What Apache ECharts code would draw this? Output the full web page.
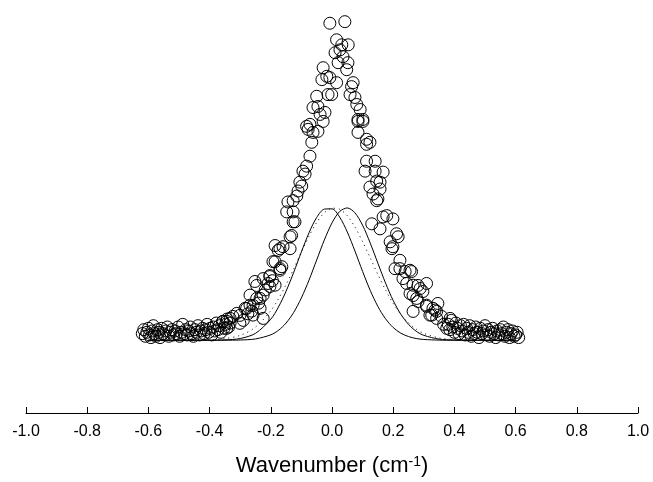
<!DOCTYPE html>
<html><head><meta charset="utf-8">
<script src="https://cdn.jsdelivr.net/npm/echarts@6/dist/echarts.min.js"></script>
<style>html,body{margin:0;padding:0;background:#fff}#c{width:653px;height:482px}</style>
</head><body><div id="c"></div>
<script>
// x-axis ticks
const xTickValues = [-1.0,-0.8,-0.6,-0.4,-0.2,0.0,0.2,0.4,0.6,0.8,1.0];
const xAxisTitle = 'Wavenumber (cm';
const xAxisTitleSup = '-1';

// measured spectrum (open circles): [wavenumber, intensity]
const measuredLeftTail = [
[-0.620,0.05],[-0.615,0.08],[-0.610,0.03],[-0.605,0.06],[-0.600,0.09],[-0.596,0.04],[-0.592,0.02],[-0.588,0.07],
[-0.584,0.11],[-0.580,0.05],[-0.575,0.03],[-0.570,0.08],[-0.566,0.06],[-0.562,0.02],[-0.557,0.09],[-0.552,0.05],
[-0.548,0.04],[-0.543,0.07],[-0.538,0.10],[-0.533,0.03],[-0.528,0.06],[-0.523,0.08],[-0.518,0.04],[-0.513,0.07],
[-0.508,0.05],[-0.503,0.10],[-0.498,0.03],[-0.493,0.06],[-0.488,0.12],[-0.483,0.05],[-0.478,0.08],[-0.473,0.04],
[-0.468,0.07],[-0.463,0.10],[-0.458,0.05],[-0.453,0.03],[-0.448,0.08],[-0.443,0.06],[-0.438,0.11],[-0.433,0.04],
[-0.428,0.07],[-0.423,0.09],[-0.418,0.05],[-0.413,0.08],[-0.408,0.12],[-0.403,0.06],[-0.398,0.09],[-0.393,0.04],
[-0.388,0.10],[-0.383,0.07],[-0.378,0.13],[-0.373,0.08],[-0.368,0.11],[-0.363,0.06],[-0.358,0.14],[-0.353,0.09],
[-0.348,0.12],[-0.343,0.16],[-0.338,0.10],[-0.333,0.13]
];
const measuredPeak = [
[-0.344,0.143],[-0.356,0.143],[-0.344,0.09],[-0.333,0.165],[-0.324,0.18],[-0.311,0.203],[-0.301,0.188],[-0.301,0.128],
[-0.290,0.15],[-0.284,0.241],[-0.279,0.24],[-0.275,0.2],[-0.268,0.265],[-0.268,0.341],[-0.262,0.22],[-0.258,0.263],
[-0.258,0.19],[-0.252,0.444],[-0.246,0.414],[-0.246,0.316],[-0.24,0.28],[-0.235,0.316],[-0.235,0.241],[-0.225,0.466],
[-0.225,0.341],[-0.225,0.165],[-0.218,0.38],[-0.209,0.429],[-0.203,0.489],[-0.203,0.406],[-0.203,0.481],[-0.195,0.45],
[-0.193,0.594],[-0.186,0.594],[-0.186,0.416],[-0.186,0.716],[-0.176,0.679],[-0.170,0.541],[-0.170,0.692],[-0.170,0.529],
[-0.164,0.556],[-0.160,0.707],[-0.148,0.97],[-0.144,1.045],[-0.137,0.782],[-0.137,0.692],[-0.132,0.792],[-0.127,0.895],
[-0.127,0.97],[-0.127,1.055],[-0.121,0.895],[-0.115,1.09],[-0.111,1.128],[-0.105,1.195],[-0.099,1.165],[-0.095,1.278],
[-0.088,1.256],[-0.083,1.316],[-0.083,1.617],[-0.078,1.594],[-0.072,1.391],[-0.072,1.632],[-0.066,1.496],[-0.062,1.571],
[-0.062,1.759],[-0.050,1.844],[-0.046,1.579],[-0.046,1.767],[-0.039,1.707],[-0.033,1.97],[-0.029,1.654],[-0.029,2.06],
[-0.023,1.722],[-0.017,1.995],[-0.013,1.857],[-0.007,1.985],[-0.007,2.396],[-0.001,1.857],[0.010,2.173],[0.015,1.947],
[0.015,2.271],[0.020,2.098],[0.026,2.195],[0.032,2.233],[0.036,2.143],[0.042,2.408],[0.048,2.045],[0.052,2.098],
[0.053,2.233],[0.059,1.857],[0.064,1.917],[0.069,1.947],[0.075,1.835],[0.081,1.782],[0.085,1.669],[0.085,1.654],
[0.085,1.571],[0.092,1.744],[0.101,1.669],[0.101,1.654],[0.108,1.278],[0.113,1.519],[0.113,1.481],[0.113,1.353],
[0.124,1.496],[0.124,1.158],[0.130,0.88],[0.134,1.105],[0.141,1.353],[0.141,1.278],[0.146,1.203],[0.146,1.055],
[0.150,1.068],[0.157,1.195],[0.157,1.143],[0.157,0.842],[0.167,1.271],[0.167,0.932],[0.179,0.942],[0.190,0.744],
[0.196,0.692],[0.199,0.917],[0.199,0.707],[0.206,0.541],[0.211,0.805],[0.216,0.782],[0.222,0.604],[0.222,0.541],
[0.232,0.466],[0.239,0.519],[0.244,0.429],[0.255,0.529],[0.255,0.353],[0.260,0.519],[0.265,0.416],[0.265,0.338],
[0.265,0.218],[0.277,0.316],[0.281,0.414],[0.281,0.293],[0.288,0.391],[0.297,0.368],[0.309,0.429],[0.309,0.265],
[0.309,0.256],[0.320,0.19],[0.326,0.19],[0.330,0.241],[0.337,0.228],[0.342,0.218],[0.342,0.165],[0.346,0.278],
[0.358,0.18],[0.365,0.12],[0.375,0.09],[0.386,0.165]
];
const measuredRightTail = [
[0.380,0.12],[0.385,0.08],[0.390,0.15],[0.395,0.10],[0.400,0.06],[0.405,0.13],[0.410,0.09],[0.415,0.05],
[0.420,0.11],[0.425,0.07],[0.430,0.12],[0.435,0.04],[0.440,0.09],[0.445,0.06],[0.450,0.11],[0.455,0.03],
[0.460,0.08],[0.465,0.05],[0.470,0.10],[0.475,0.06],[0.480,0.02],[0.485,0.09],[0.490,0.05],[0.495,0.07],
[0.500,0.11],[0.505,0.04],[0.510,0.08],[0.515,0.03],[0.520,0.06],[0.525,0.09],[0.530,0.05],[0.535,0.02],
[0.540,0.07],[0.545,0.04],[0.550,0.08],[0.555,0.05],[0.560,0.10],[0.565,0.03],[0.570,0.06],[0.575,0.08],
[0.580,0.02],[0.585,0.05],[0.590,0.07],[0.595,0.03],[0.600,0.04],[0.605,0.06],[0.610,0.02]
];

// model curves sampled at these wavenumbers
const curveX = [-0.6,-0.5,-0.4,-0.35,-0.3,-0.25,-0.2,-0.175,-0.15,-0.125,-0.1,-0.075,-0.05,-0.025,0,
  0.025,0.05,0.075,0.1,0.125,0.15,0.175,0.2,0.225,0.25,0.275,0.3,0.35,0.4,0.5,0.6];
const curveLeft = [0,0,0.0004,0.0026,0.013,0.052,0.159,0.251,0.371,0.514,0.668,0.813,0.928,0.991,0.993,
  0.931,0.818,0.674,0.520,0.376,0.255,0.162,0.096,0.053,0.028,0.013,0.006,0.001,0,0,0];
const curveRight = [0,0,0,0.0003,0.0018,0.0098,0.041,0.075,0.130,0.211,0.320,0.455,0.607,0.758,0.887,
  0.973,1.0,0.963,0.869,0.734,0.582,0.432,0.300,0.196,0.120,0.068,0.037,0.0087,0.0016,0,0];
const curveDotted = [0,0,0.003,0.0117,0.037,0.099,0.223,0.313,0.420,0.541,0.667,0.787,0.890,0.963,0.998,
  0.990,0.941,0.856,0.745,0.622,0.497,0.380,0.278,0.195,0.131,0.084,0.052,0.017,0.005,0,0];

const pair = (xs, ys) => xs.map((x, i) => [x, ys[i]]);
const chart = echarts.init(document.getElementById('c'), null, {renderer: 'canvas'});
const FONT = '"Liberation Sans", Arial, sans-serif';
const lineBase = {type: 'line', showSymbol: false, symbol: 'none', smooth: 0.3, silent: true, z: 2};
chart.setOption({
  animation: false,
  backgroundColor: '#fff',
  grid: {left: 26, right: 653 - 638, top: 9.5, bottom: 482 - 415.15, containLabel: false},
  xAxis: {
    type: 'value', min: -1, max: 1, interval: 0.2,
    axisLine: {show: true, onZero: false, lineStyle: {color: '#000', width: 1}},
    axisTick: {show: true, inside: true, length: 6, lineStyle: {color: '#000', width: 1}},
    axisLabel: {color: '#000', fontSize: 16, fontFamily: FONT, margin: 11, showMinLabel: true, showMaxLabel: true,
      formatter: v => xTickValues.find(t => Math.abs(t - v) < 1e-9).toFixed(1)},
    splitLine: {show: false},
    name: '{a|' + xAxisTitle + '}{s|' + xAxisTitleSup + '}{a|)}',
    nameLocation: 'middle', nameGap: 42,
    nameTextStyle: {rich: {
      a: {fontSize: 22, fontFamily: FONT, color: '#000'},
      s: {fontSize: 14, fontFamily: FONT, color: '#000', verticalAlign: 'top'}
    }}
  },
  yAxis: {type: 'value', show: false, min: -0.55, max: 2.5, splitLine: {show: false}},
  series: [
    Object.assign({}, lineBase, {data: pair(curveX, curveLeft), lineStyle: {color: '#000', width: 1}}),
    Object.assign({}, lineBase, {data: pair(curveX, curveRight), lineStyle: {color: '#000', width: 1}}),
    Object.assign({}, lineBase, {data: pair(curveX, curveDotted), lineStyle: {color: '#000', width: 1, type: [1, 4]}}),
    {type: 'scatter', symbol: 'circle', symbolSize: 12, z: 3, silent: true,
     data: measuredLeftTail.concat(measuredPeak, measuredRightTail),
     itemStyle: {color: 'rgba(0,0,0,0)', borderColor: '#000', borderWidth: 1, opacity: 1}}
  ]
});
</script></body></html>
